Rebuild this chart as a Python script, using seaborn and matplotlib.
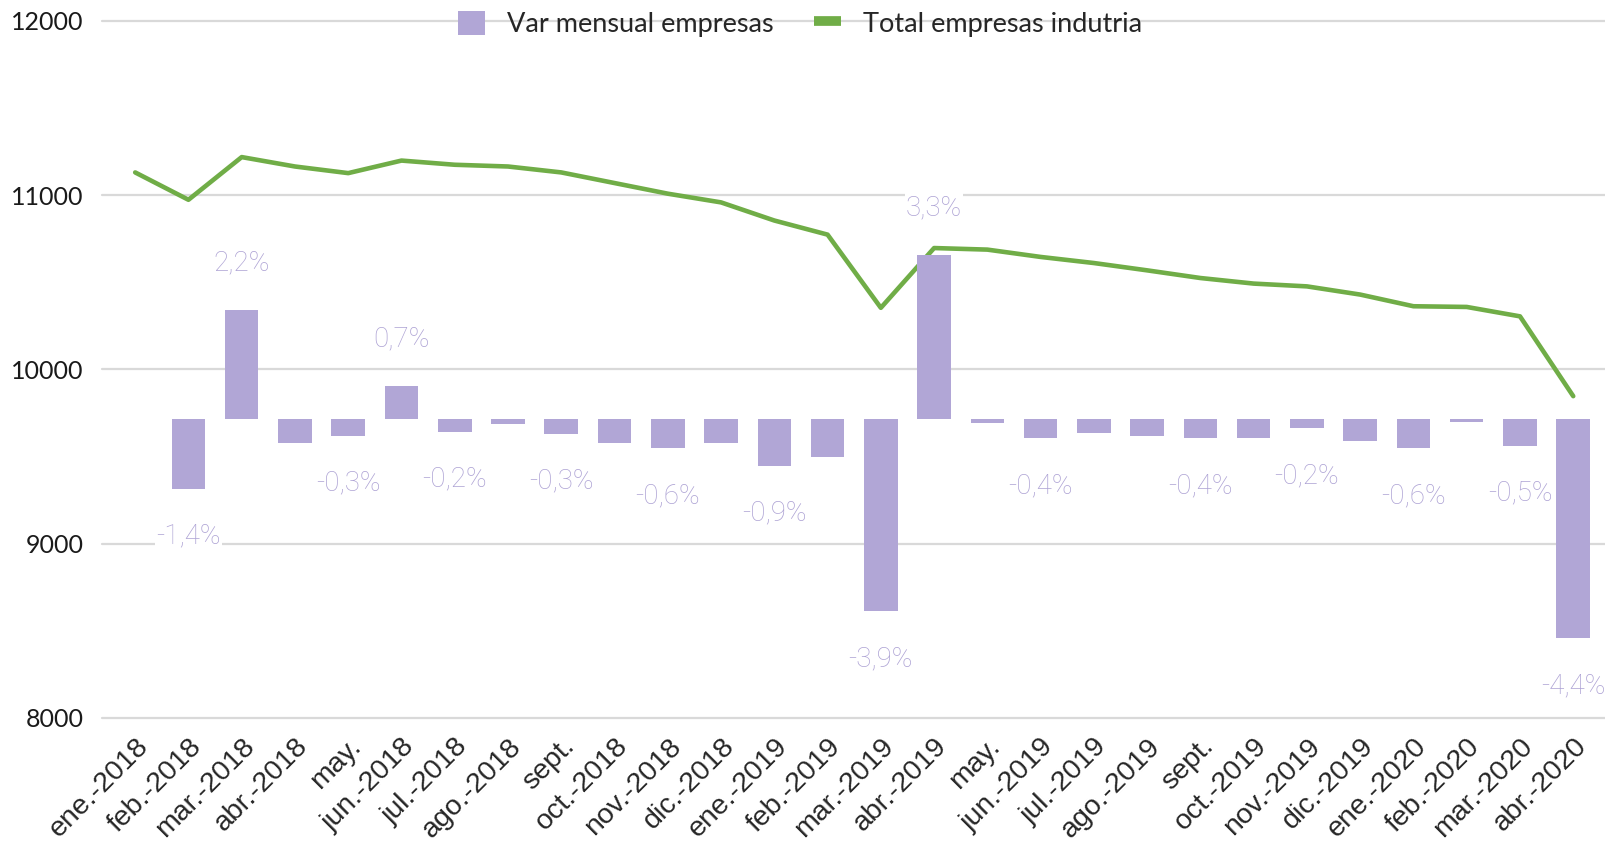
import numpy as np
import pandas as pd
import matplotlib
matplotlib.use("Agg")
import matplotlib.pyplot as plt
import seaborn as sns
from matplotlib.lines import Line2D
from matplotlib.patches import Patch

# Data
months = ['ene.-2018', 'feb.-2018', 'mar.-2018', 'abr.-2018', 'may.', 'jun.-2018',
          'jul.-2018', 'ago.-2018', 'sept.', 'oct.-2018', 'nov.-2018', 'dic.-2018',
          'ene.-2019', 'feb.-2019', 'mar.-2019', 'abr.-2019', 'may.', 'jun.-2019',
          'jul.-2019', 'ago.-2019', 'sept.', 'oct.-2019', 'nov.-2019', 'dic.-2019',
          'ene.-2020', 'feb.-2020', 'mar.-2020', 'abr.-2020']

total_empresas = [11131, 10974, 11219, 11165, 11127, 11199, 11175, 11165, 11131, 11070,
                  11009, 10959, 10855, 10774, 10354, 10697, 10688, 10646, 10611, 10569,
                  10525, 10493, 10477, 10430, 10363, 10359, 10305, 9847]

# monthly change in %
var_mensual = [np.nan, -1.4, 2.2, -0.48, -0.33, 0.66, -0.25, -0.09, -0.29, -0.48,
               -0.58, -0.48, -0.93, -0.76, -3.86, 3.3, -0.08, -0.38, -0.28, -0.33,
               -0.38, -0.38, -0.18, -0.43, -0.58, -0.05, -0.53, -4.4]

var_labels = ['', '-1,4%', '2,2%', '', '-0,3%', '0,7%', '-0,2%', '', '-0,3%', '',
              '-0,6%', '', '-0,9%', '', '-3,9%', '3,3%', '', '-0,4%', '', '',
              '-0,4%', '', '-0,2%', '', '-0,6%', '', '-0,5%', '-4,4%']

bar_color = '#b1a6d6'
line_color = '#70ad47'
label_color = '#ada2d4'
grid_color = '#d9d9d9'

sns.set_style('white')
plt.rcParams['font.family'] = ['Lato', 'DejaVu Sans']

W, H = 1606, 843
fig = plt.figure(figsize=(W / 100, H / 100), dpi=100)
ax = fig.add_axes([102 / W, 1 - 718 / H, 1504 / W, (718 - 21) / H])
ax2 = ax.twinx()

pos = np.arange(len(months))
df = pd.DataFrame({'pos': pos, 'total': total_empresas, 'var': var_mensual})

# line - total companies (left axis)
sns.lineplot(data=df, x='pos', y='total', ax=ax, color=line_color, linewidth=3.3)

# bars - monthly variation (hidden right axis)
sns.barplot(data=df, x='pos', y='var', ax=ax2, native_scale=True,
            color=bar_color, saturation=1, width=0.63, linewidth=0)

# gridlines
for v in [8000, 9000, 10000, 11000, 12000]:
    ax.axhline(v, color=grid_color, linewidth=1.6, zorder=0, clip_on=False)

ax.set_ylim(8000, 12000)
ax2.set_ylim(-6, 8)
ax.set_xlim(-0.623, 27.615)

ax.set_yticks([8000, 9000, 10000, 11000, 12000])
ax.set_yticklabels(['8000', '9000', '10000', '11000', '12000'], fontsize=18, color='#1a1a1a')
ax.tick_params(axis='y', length=0, pad=13)
ax.set_xticks(pos)
ax.set_xticklabels(months, rotation=45, ha='right', rotation_mode='anchor',
                   fontsize=20.5, color='#262626', family=['Liberation Sans', 'DejaVu Sans'])
ax.tick_params(axis='x', length=0, pad=11)
ax.set_xlabel('')
ax.set_ylabel('')
ax2.set_ylabel('')
ax2.set_yticks([])
for s in ax.spines.values():
    s.set_visible(False)
for s in ax2.spines.values():
    s.set_visible(False)

# data labels
for x, v, lbl in zip(pos, var_mensual, var_labels):
    if not lbl:
        continue
    off = 34 if v > 0 else -34
    ax2.annotate(lbl, (x, v), xytext=(0, off), textcoords='offset points',
                 ha='center', va='center', fontsize=20, color=label_color,
                 family=['Roboto', 'DejaVu Sans'], fontweight='light',
                 bbox=dict(facecolor='white', edgecolor='none', pad=0.5))

# legend
handles = [Patch(facecolor=bar_color, edgecolor='none'),
           Line2D([0], [0], color=line_color, linewidth=7, solid_capstyle='butt')]
fig.legend(handles, ['Var mensual empresas', 'Total empresas indutria'],
           loc='center', bbox_to_anchor=(800 / W, 1 - 24 / H), ncol=2, frameon=False,
           fontsize=19.5, handlelength=1.0, handleheight=1.0, handletextpad=0.8,
           columnspacing=1.5)

plt.savefig("out.png", dpi=100)
